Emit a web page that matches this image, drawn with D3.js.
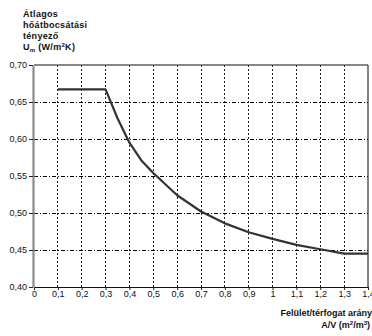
<!DOCTYPE html>
<html>
<head>
<meta charset="utf-8">
<script src="https://cdn.jsdelivr.net/npm/d3@7"></script>
<style>
  html, body { margin: 0; padding: 0; background: #fff; }
  svg { display: block; }
  text { font-family: "Liberation Sans", Arial, sans-serif; fill: #111; }
</style>
</head>
<body>
<div id="chart"></div>
<script>
// A/V ratio and average U value
const ratioAV = [0.1, 0.3, 0.35, 0.4, 0.45, 0.5, 0.6, 0.7, 0.8, 0.9, 1.0, 1.1, 1.2, 1.3, 1.4];
const uValues = [0.667, 0.667, 0.628, 0.595, 0.571, 0.554, 0.524, 0.502, 0.486, 0.474, 0.465, 0.457, 0.451, 0.445, 0.445];

const xTicks = [0, 0.1, 0.2, 0.3, 0.4, 0.5, 0.6, 0.7, 0.8, 0.9, 1.0, 1.1, 1.2, 1.3, 1.4];
const yTicks = [0.40, 0.45, 0.50, 0.55, 0.60, 0.65, 0.70];

const titleLines = ['Átlagos', 'hőátbocsátási', 'tényező'];

const width = 372, height = 336;

const svg = d3.select('#chart').append('svg')
  .attr('width', width)
  .attr('height', height);

const x = d3.scaleLinear().domain([0, 1.4]).range([34, 368]);
const y = d3.scaleLinear().domain([0.40, 0.70]).range([287, 65]);

const comma = (d, n) => d.toFixed(n).replace('.', ',');

// gridlines
svg.append('g')
  .attr('shape-rendering', 'crispEdges')
  .selectAll('line')
  .data(xTicks.filter(d => d > 0 && d < 1.4))
  .join('line')
  .attr('x1', d => x(d)).attr('x2', d => x(d))
  .attr('y1', y(0.70)).attr('y2', y(0.40))
  .attr('stroke', '#222')
  .attr('stroke-width', 1)
  .attr('stroke-dasharray', '2,2');

svg.append('g')
  .attr('shape-rendering', 'crispEdges')
  .selectAll('line')
  .data(yTicks.filter(d => d > 0.40 && d < 0.70))
  .join('line')
  .attr('x1', x(0)).attr('x2', x(1.4))
  .attr('y1', d => y(d)).attr('y2', d => y(d))
  .attr('stroke', '#000')
  .attr('stroke-width', 1)
  .attr('stroke-dasharray', '4,2,1,2');

// frame: top and right
svg.append('line')
  .attr('x1', x(0)).attr('x2', x(1.4))
  .attr('y1', y(0.70)).attr('y2', y(0.70))
  .attr('stroke', '#111').attr('stroke-width', 1.2);
svg.append('line')
  .attr('x1', x(1.4)).attr('x2', x(1.4))
  .attr('y1', y(0.70)).attr('y2', y(0.40))
  .attr('stroke', '#333').attr('stroke-width', 1.2);

// x axis
const xAxis = svg.append('g')
  .attr('transform', `translate(0,${y(0.40)})`)
  .call(d3.axisBottom(x).tickValues(xTicks).tickSizeInner(3).tickSizeOuter(0)
    .tickFormat(d => d === 0 || d === 1 ? String(d) : comma(d, 1)));
xAxis.select('.domain').attr('stroke', '#111').attr('stroke-width', 1.2);
xAxis.selectAll('.tick line').attr('stroke', '#222');
xAxis.selectAll('.tick text')
  .attr('dy', '0.4em')
  .style('font-size', '9px')
  .style('font-family', '"Liberation Sans", Arial, sans-serif')
  .attr('fill', '#111');

// y axis
const yAxis = svg.append('g')
  .attr('transform', `translate(${x(0) - 1},0)`)
  .call(d3.axisLeft(y).tickValues(yTicks).tickSizeInner(4).tickSizeOuter(0)
    .tickFormat(d => comma(d, 2)));
yAxis.select('.domain').attr('stroke', '#8a8a8a').attr('stroke-width', 2.2);
yAxis.selectAll('.tick line').attr('stroke', '#222');
yAxis.selectAll('.tick text')
  .attr('x', -6)
  .style('font-size', '9px')
  .style('font-family', '"Liberation Sans", Arial, sans-serif')
  .attr('fill', '#111');

// curve
const line = d3.line()
  .x((d, i) => x(ratioAV[i]))
  .y(d => y(d));

svg.append('path')
  .datum(uValues)
  .attr('d', line)
  .attr('fill', 'none')
  .attr('stroke', '#333')
  .attr('stroke-width', 2.2)
  .attr('stroke-linejoin', 'round');

// axis titles
const title = svg.append('g')
  .style('font-size', '9px')
  .style('font-weight', 'bold')
  .style('letter-spacing', '0.3px');

title.selectAll('text.tl')
  .data(titleLines)
  .join('text')
  .attr('class', 'tl')
  .attr('x', 23)
  .attr('y', (d, i) => 17 + i * 11)
  .text(d => d);

const uLabel = title.append('text').attr('x', 23).attr('y', 50);
uLabel.append('tspan').text('U');
uLabel.append('tspan').attr('dy', 2).style('font-size', '6px').text('m');
uLabel.append('tspan').attr('dy', -2).text(' (W/m');
uLabel.append('tspan').attr('dy', -3).style('font-size', '6px').text('2');
uLabel.append('tspan').attr('dy', 3).text('K)');

const xt = svg.append('g')
  .style('font-size', '9px')
  .style('font-weight', 'bold')
  .attr('text-anchor', 'end');

xt.append('text').attr('x', 372).attr('y', 316).text('Felület/térfogat arány');
const av = xt.append('text').attr('x', 370).attr('y', 328);
av.append('tspan').text('A/V (m');
av.append('tspan').attr('dy', -3).style('font-size', '6px').text('2');
av.append('tspan').attr('dy', 3).text('/m');
av.append('tspan').attr('dy', -3).style('font-size', '6px').text('3');
av.append('tspan').attr('dy', 3).text(')');
</script>
</body>
</html>
